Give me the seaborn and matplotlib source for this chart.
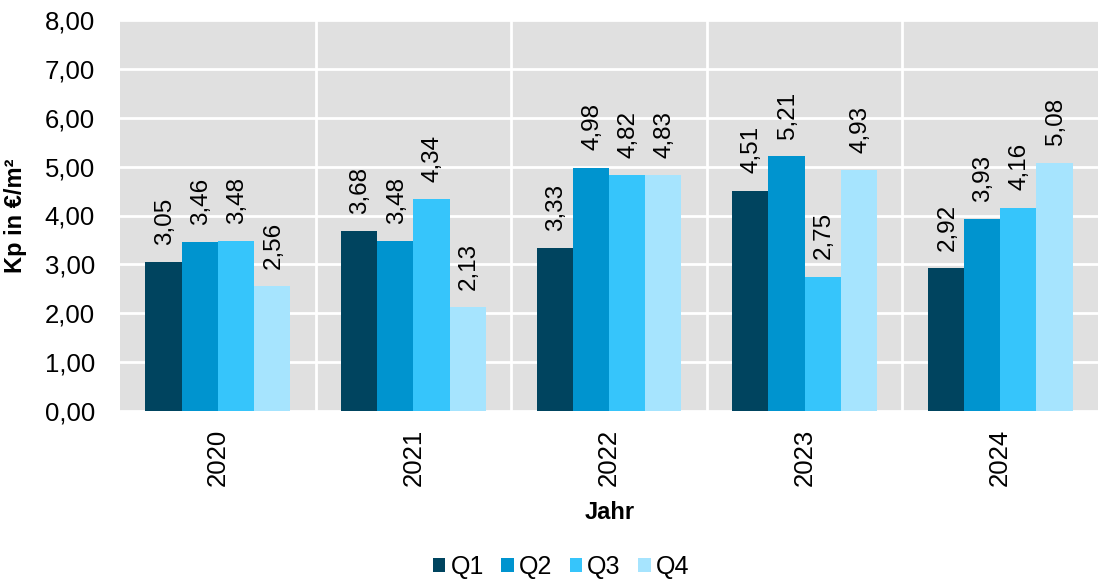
import numpy as np
import pandas as pd
import matplotlib
matplotlib.use("Agg")
import matplotlib.pyplot as plt
import seaborn as sns
from matplotlib.ticker import FuncFormatter, MultipleLocator

# data
years = ["2020", "2021", "2022", "2023", "2024"]
quarters = ["Q1", "Q2", "Q3", "Q4"]
q1 = [3.05, 3.68, 3.33, 4.51, 2.92]
q2 = [3.46, 3.48, 4.98, 5.21, 3.93]
q3 = [3.48, 4.34, 4.82, 2.75, 4.16]
q4 = [2.56, 2.13, 4.83, 4.93, 5.08]
colors = ["#00445f", "#0094cf", "#36c5fb", "#a6e4fe"]

rows = []
for q, vals in zip(quarters, [q1, q2, q3, q4]):
    for y, v in zip(years, vals):
        rows.append({"Jahr": y, "Quartal": q, "Kp": v})
df = pd.DataFrame(rows)

sns.set_style("white", {"text.color": "black", "xtick.color": "black", "ytick.color": "black",
                        "axes.labelcolor": "black"})
plt.rcParams['font.family'] = ['Liberation Sans', 'DejaVu Sans']

fig = plt.figure(figsize=(10.98, 5.84), dpi=100)
ax = fig.add_axes([120/1098, 1 - 411/584, 978/1098, 391/584])
ax.set_facecolor("#e0e0e0")

sns.barplot(data=df, x="Jahr", y="Kp", hue="Quartal", order=years, hue_order=quarters,
            palette=colors, width=0.74, gap=0, saturation=1, errorbar=None, ax=ax,
            linewidth=0, zorder=3)

# value labels
for cont in ax.containers:
    for bar in cont:
        h = bar.get_height()
        ax.annotate(f"{h:.2f}".replace(".", ","), (bar.get_x() + bar.get_width() / 2, h),
                    xytext=(1, 12.5), textcoords="offset points", rotation=90,
                    ha="center", va="bottom", fontsize=17.5, color="black", zorder=4)

ax.set_ylim(0, 8)
ax.set_xlim(-0.5, 4.5)
ax.yaxis.set_major_locator(MultipleLocator(1))
ax.yaxis.set_major_formatter(FuncFormatter(lambda v, p: f"{v:.2f}".replace(".", ",")))
ax.grid(axis="y", color="white", linewidth=2, zorder=1)
ax.set_axisbelow(True)
for xb in np.arange(0.5, 4.5, 1):
    ax.axvline(xb, color="white", linewidth=2, zorder=1)
for s in ax.spines.values():
    s.set_visible(False)

ax.tick_params(axis="y", labelsize=18.5, length=0, pad=18)
ax.tick_params(axis="x", labelsize=18.5, length=0, pad=13, labelrotation=90)

ax.set_xlabel("Jahr", fontsize=17, fontweight="bold")
ax.xaxis.set_label_coords(0.501, -0.23)
ax.set_ylabel("Kp in €/m²", fontsize=17, fontweight="bold")
ax.yaxis.set_label_coords(-0.095, 0.5)

handles, labels = ax.get_legend_handles_labels()
ax.get_legend().remove()
fig.legend(handles, labels, loc="center", bbox_to_anchor=(561/1098, 1 - 567/584),
           ncol=4, frameon=False, fontsize=18, handlelength=0.5, handleheight=0.5,
           handletextpad=0.2, columnspacing=0.7)

fig.savefig("out.png", dpi=100)
